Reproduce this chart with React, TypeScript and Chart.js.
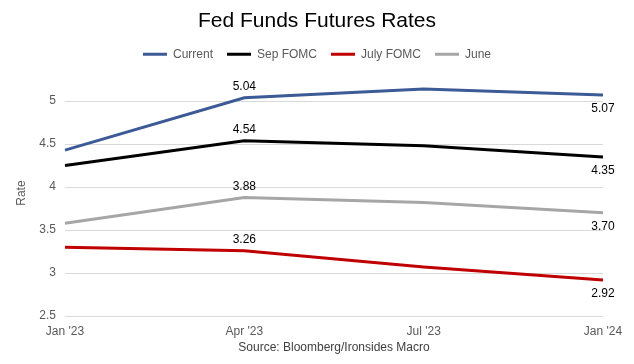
import React, { useEffect, useRef } from "react";
import { Chart, registerables } from "chart.js";

Chart.register(...registerables);

const categories = ["Jan '23", "Apr '23", "Jul '23", "Jan '24"];
const currentRates = [4.43, 5.04, 5.14, 5.07];
const sepFomcRates = [4.25, 4.54, 4.48, 4.35];
const julyFomcRates = [3.3, 3.26, 3.07, 2.92];
const juneRates = [3.58, 3.88, 3.82, 3.7];
const seriesNames = ["Current", "Sep FOMC", "July FOMC", "June"];
const seriesColors = ["#3C5A96", "#000000", "#C00000", "#A6A6A6"];
const labelAboveIndex = 1;
const labelBelowIndex = 3;
const yMin = 2.5;
const yMax = 5.36;
const yStep = 0.5;

const FONT = "'Liberation Sans', Arial, sans-serif";

const dataLabelPlugin = {
  id: "dataLabels",
  afterDatasetsDraw(chart: any) {
    const ctx = chart.ctx;
    ctx.save();
    ctx.font = `12px ${FONT}`;
    ctx.fillStyle = "#000000";
    ctx.textAlign = "center";
    ctx.textBaseline = "middle";
    chart.data.datasets.forEach((ds: any, di: number) => {
      const meta = chart.getDatasetMeta(di);
      [labelAboveIndex, labelBelowIndex].forEach((idx) => {
        const pt = meta.data[idx];
        if (!pt) return;
        const v = ds.data[idx] as number;
        const dy = idx === labelAboveIndex ? -11 : 14;
        ctx.fillText(v.toFixed(2), pt.x, pt.y + dy);
      });
    });
    ctx.restore();
  },
};

export default function App() {
  const ref = useRef<HTMLCanvasElement | null>(null);
  useEffect(() => {
    if (!ref.current) return;
    const allSeries = [currentRates, sepFomcRates, julyFomcRates, juneRates];
    const chart = new Chart(ref.current, {
      type: "line",
      data: {
        labels: categories,
        datasets: allSeries.map((d, i) => ({
          label: seriesNames[i],
          data: d,
          borderColor: seriesColors[i],
          backgroundColor: seriesColors[i],
          borderWidth: 3,
          pointRadius: 0,
          tension: 0,
          fill: false,
        })),
      },
      options: {
        animation: false,
        responsive: false,
        devicePixelRatio: 1,
        layout: { padding: { left: 4, right: 4, top: 0, bottom: 9 } },
        plugins: {
          title: {
            display: true,
            text: "Fed Funds Futures Rates",
            color: "#000000",
            font: { family: FONT, size: 21, weight: "normal" },
            padding: { top: 9, bottom: 0 },
          },
          legend: {
            display: true,
            position: "top",
            labels: {
              color: "#595959",
              font: { family: FONT, size: 12 },
              boxWidth: 24,
              boxHeight: 3,
              padding: 14,
              generateLabels: (c: any) => {
                const items = Chart.defaults.plugins.legend.labels.generateLabels(c);
                return items.map((it: any) => ({
                  ...it,
                  lineWidth: 0,
                  fillStyle: it.strokeStyle,
                }));
              },
            },
          },
          tooltip: { enabled: false },
        },
        scales: {
          x: {
            offset: false,
            grid: { display: false, drawTicks: false },
            border: { display: false },
            title: {
              display: true,
              text: "Source: Bloomberg/Ironsides Macro",
              color: "#404040",
              font: { family: FONT, size: 12 },
              padding: { top: 0, bottom: 0 },
            },
            ticks: {
              color: "#595959",
              font: { family: FONT, size: 12 },
              padding: 8,
              maxRotation: 0,
            },
            afterFit: (scale: any) => {
              scale.height = 39;
              scale.paddingLeft = 0;
              scale.paddingRight = 31;
            },
          },
          y: {
            min: yMin,
            max: yMax,
            afterBuildTicks: (scale: any) => {
              const t: any[] = [];
              for (let v = yMin; v <= yMax + 1e-9; v += yStep) t.push({ value: Math.round(v * 10) / 10 });
              scale.ticks = t;
            },
            afterFit: (scale: any) => {
              scale.width = 61;
            },
            grid: { color: "#D9D9D9", lineWidth: 1, drawTicks: false },
            border: { display: false },
            title: {
              display: true,
              text: "Rate",
              color: "#595959",
              font: { family: FONT, size: 12 },
              padding: { top: 10, bottom: 4 },
            },
            ticks: {
              color: "#595959",
              font: { family: FONT, size: 12 },
              padding: 9,
              callback: (v: any) => String(v),
            },
          },
        },
      },
      plugins: [dataLabelPlugin],
    } as any);
    return () => chart.destroy();
  }, []);
  return (
    <div style={{ position: "fixed", left: 0, top: 0, width: 634, height: 364, background: "#fff" }}>
      <canvas ref={ref} width={634} height={364} style={{ display: "block" }} />
    </div>
  );
}
